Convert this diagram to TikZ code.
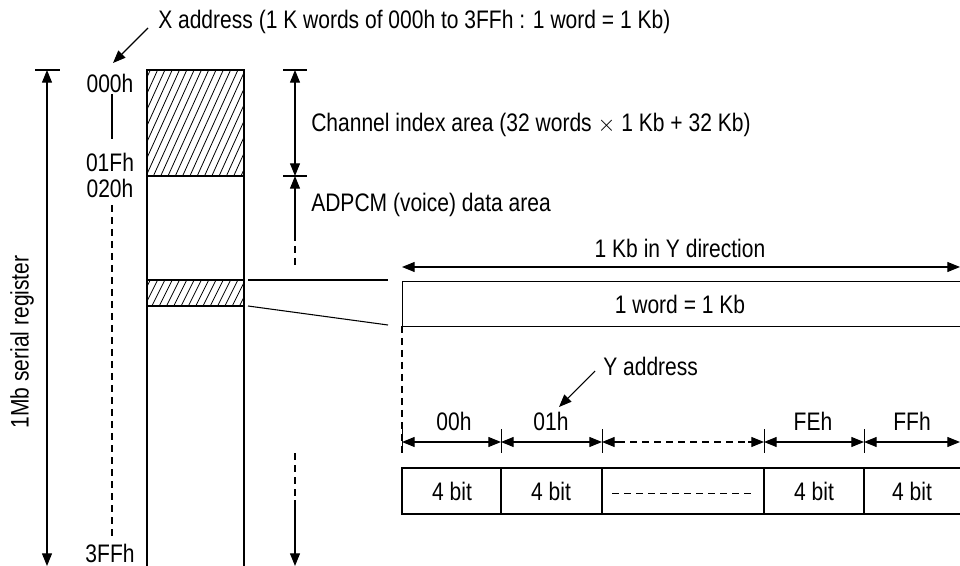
\documentclass[tikz,border=0pt]{standalone}
\usepackage{fontspec}
\setmainfont{Liberation Sans}[FakeStretch=0.83]
\usetikzlibrary{arrows.meta}
\begin{document}
\begin{tikzpicture}[x=0.75pt,y=-0.75pt,
  font=\fontsize{19}{22}\selectfont,
  every node/.style={inner sep=0pt},
  tri/.tip={Triangle[length=9.5pt,width=7.5pt]},
  dimline/.style={line width=0.8pt},
  boxline/.style={line width=1.1pt},
  dashline/.style={line width=0.8pt,dash pattern=on 5pt off 4pt},
  hatch/.style={line width=0.6pt}]
\useasboundingbox (0,0) rectangle (960,566);

% ---- memory column ----
\coordinate (cTL) at (147,70);
\coordinate (cTR) at (244,70);
\coordinate (cBL) at (147,570);
\coordinate (cBR) at (244,570);
\begin{scope}
  \clip (147,70) rectangle (244,176);
  \foreach \i in {0,...,30} \draw[hatch] (95+\i*7.3,176) -- ++(48,-106);
\end{scope}
\begin{scope}
  \clip (147,280) rectangle (244,306);
  \foreach \i in {0,...,20} \draw[hatch] (130+\i*7.3,306) -- ++(13,-26);
\end{scope}
\draw[boxline] (cBL) -- (cTL) -- (cTR) -- (cBR);
\draw[boxline] (147,176) -- (244,176);
\draw[boxline] (147,280) -- (244,280);
\draw[boxline] (147,306) -- (244,306);
\coordinate (sT) at (248,280);
\coordinate (sB) at (248,306);

% ---- X address label ----
\node[anchor=west] (xaddr) at (158,22) {X address (1 K words of 000h to 3FFh : 1 word = 1 Kb)};
\coordinate (xa1) at (148,28);
\coordinate (xa2) at (113,63);
\draw[dimline,-tri] (xa1) -- (xa2);

% ---- address labels ----
\node (a000) at (110,83) {000h};
\node (a01F) at (110,162) {01Fh};
\node (a020) at (110,188) {020h};
\node (a3FF) at (110,553) {3FFh};
\draw[dimline] (112,94) -- (112,139);
\draw[dashline] (112,205) -- (112,538);

% ---- left dimension ----
\coordinate (lt1) at (35,70);
\coordinate (lt2) at (60,70);
\draw[dimline] (lt1) -- (lt2);
\draw[dimline,tri-tri] (47,70) -- (47,566);
\node[rotate=90] (reg) at (22,342) {1Mb serial register};

% ---- right dimensions ----
\draw[dimline] (283,70) -- (307,70);
\draw[dimline] (283,176) -- (307,176);
\draw[dimline,tri-tri] (295,70) -- (295,176);
\draw[dimline,tri-] (295,176) -- (295,234);
\draw[dashline] (295,234) -- (295,267);
\draw[dashline] (295,453) -- (295,500);
\draw[dimline,-tri] (295,500) -- (295,566);
\node[anchor=west] (chan) at (311,125) {Channel index area (32 words $\times$ 1 Kb + 32 Kb)};
\node[anchor=west] (adpcm) at (311,205) {ADPCM (voice) data area};

% ---- word box ----
\node[draw,boxline,minimum width=0.75*560pt,minimum height=0.75*45pt,anchor=north west] (word) at (402,281) {};
\node (wordtxt) at (680,304) {1 word = 1 Kb};
\draw[dimline] (sT) -- (388,280);
\draw[dimline] (sB) -- (388,325);
\draw[dimline,tri-tri] (402,267) -- (960,267);
\node (ydir) at (680,248) {1 Kb in Y direction};
\draw[dashline] (402,326) -- (402,453);

% ---- Y address ----
\node[anchor=west] (yaddr) at (603,366) {Y address};
\coordinate (ya1) at (595,371);
\coordinate (ya2) at (559,407);
\draw[dimline,-tri] (ya1) -- (ya2);

% ---- bit dimension row ----
\draw[line width=0.6pt] (402,429) -- (402,453);
\foreach \x in {501,602,764,864} \draw[line width=0.6pt] (\x,429) -- (\x,453);
\draw[dimline,tri-tri] (402,442) -- (501,442);
\draw[dimline,tri-tri] (501,442) -- (602,442);
\draw[dimline,tri-] (602,442) -- (618,442);
\draw[dashline] (618,442) -- (748,442);
\draw[dimline,-tri] (748,442) -- (764,442);
\draw[dimline,tri-tri] (764,442) -- (864,442);
\draw[dimline,tri-tri] (864,442) -- (960,442);
\node (l00) at (454,421) {00h};
\node (l01) at (551,421) {01h};
\node (lFE) at (813,421) {FEh};
\node (lFF) at (912,421) {FFh};

% ---- bit boxes ----
\draw[boxline] (402,468) rectangle (501,514);
\draw[boxline] (501,468) rectangle (602,514);
\draw[boxline] (602,468) rectangle (764,514);
\draw[boxline] (764,468) rectangle (864,514);
\draw[boxline] (864,468) rectangle (962,514);
\node (b1) at (452,491) {4 bit};
\node (b2) at (551,491) {4 bit};
\node (b4) at (814,491) {4 bit};
\node (b5) at (912,491) {4 bit};
\draw[dashline,line width=0.6pt] (612,493) -- (754,493);
\end{tikzpicture}
\end{document}
